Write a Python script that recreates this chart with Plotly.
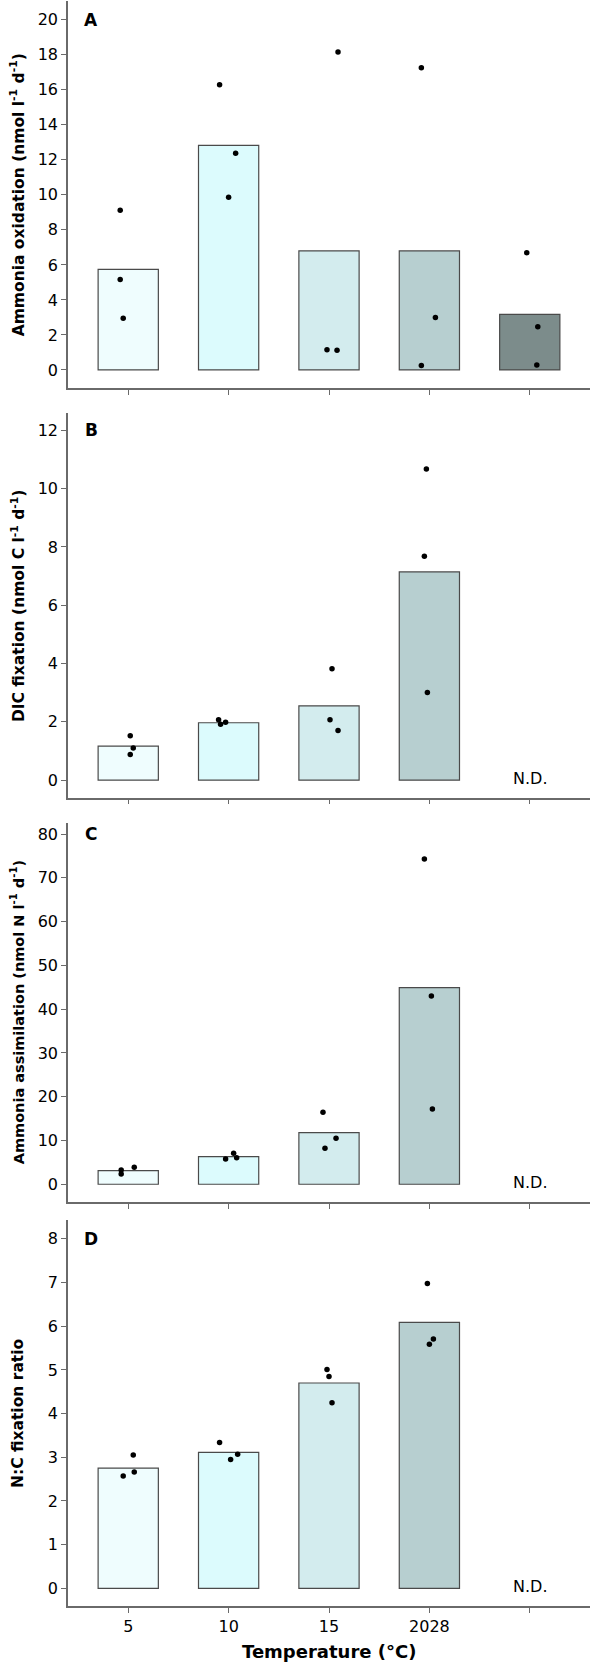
import plotly.graph_objects as go

# ---------------- data ----------------
categories = ["5", "10", "15", "2028", ""]
bar_colors = ["#effdfe", "#dcfbfd", "#d3ecee", "#b7cfd0", "#7c8c8b"]

# Panel A: ammonia oxidation
a_means = [5.74, 12.82, 6.80, 6.80, 3.17]
a_points = [[9.12, 5.17, 2.95], [16.28, 12.38, 9.86], [18.16, 1.16, 1.12],
            [17.25, 3.00, 0.25], [6.70, 2.47, 0.28]]
a_jitter = [[-0.08, -0.08, -0.05], [-0.09, 0.07, 0.0], [0.09, -0.02, 0.08],
            [-0.08, 0.06, -0.08], [-0.03, 0.08, 0.07]]

# Panel B: DIC fixation
b_means = [1.165, 1.97, 2.55, 7.14]
b_points = [[1.52, 1.10, 0.88], [2.07, 1.92, 1.99], [3.82, 2.07, 1.70],
            [10.67, 7.68, 3.01]]
b_jitter = [[0.02, 0.05, 0.02], [-0.10, -0.08, -0.03], [0.03, 0.01, 0.09],
            [-0.03, -0.05, -0.02]]

# Panel C: ammonia assimilation
c_means = [3.1, 6.3, 11.8, 44.9]
c_points = [[3.27, 2.35, 3.88], [5.78, 7.08, 6.08], [16.44, 10.5, 8.22],
            [74.3, 43.0, 17.2]]
c_jitter = [[-0.07, -0.07, 0.06], [-0.03, 0.05, 0.08], [-0.06, 0.07, -0.04],
            [-0.05, 0.02, 0.03]]

# Panel D: N:C fixation ratio
d_means = [2.75, 3.11, 4.70, 6.09]
d_points = [[2.57, 2.66, 3.05], [3.34, 2.95, 3.07], [5.01, 4.85, 4.25],
            [6.98, 5.71, 5.59]]
d_jitter = [[-0.05, 0.06, 0.05], [-0.09, 0.02, 0.09], [-0.02, 0.0, 0.03],
            [-0.02, 0.04, 0.0]]

panel_letters = ["A", "B", "C", "D"]
y_titles = ["Ammonia oxidation (nmol l<sup>-1</sup> d<sup>-1</sup>)",
            "DIC fixation (nmol C l<sup>-1</sup> d<sup>-1</sup>)",
            "Ammonia assimilation (nmol N l<sup>-1</sup> d<sup>-1</sup>)",
            "N:C fixation ratio"]
y_ticks = [[0, 2, 4, 6, 8, 10, 12, 14, 16, 18, 20],
           [0, 2, 4, 6, 8, 10, 12],
           [0, 10, 20, 30, 40, 50, 60, 70, 80],
           [0, 1, 2, 3, 4, 5, 6, 7, 8]]
y_ranges = [[-1.03, 21.08], [-0.6, 12.6], [-4.0, 82.5], [-0.405, 8.43]]
domains = [[0.7584, 0.9995], [0.5033, 0.7430], [0.2517, 0.4875], [0.0, 0.2403]]
nd_label = "N.D."
x_title = "Temperature (°C)"

FONT = "DejaVu Sans"
AXC = "#6a6a6a"
EDGE = "#4a4a4a"

fig = go.Figure()
panels = [(a_means, a_points, a_jitter), (b_means, b_points, b_jitter),
          (c_means, c_points, c_jitter), (d_means, d_points, d_jitter)]
title_sizes = [15.5, 15.5, 14.5, 15.5]

for i, (means, pts, jit) in enumerate(panels):
    xa = "x" if i == 0 else f"x{i+1}"
    ya = "y" if i == 0 else f"y{i+1}"
    n = len(means)
    fig.add_trace(go.Bar(
        x=list(range(n)), y=means, width=0.6,
        marker=dict(color=bar_colors[:n], line=dict(color=EDGE, width=1.2)),
        xaxis=xa, yaxis=ya, showlegend=False, hoverinfo="skip"))
    px, py = [], []
    for k in range(n):
        for v, j in zip(pts[k], jit[k]):
            px.append(k + j)
            py.append(v)
    fig.add_trace(go.Scatter(
        x=px, y=py, mode="markers",
        marker=dict(color="black", size=5.5),
        xaxis=xa, yaxis=ya, showlegend=False, hoverinfo="skip"))
    # panel letter
    fig.add_annotation(x=-0.37, y=y_ticks[i][-1], xref=xa, yref=ya,
                       text=f"<b>{panel_letters[i]}</b>", showarrow=False,
                       font=dict(family=FONT, size=17, color="black"),
                       xanchor="center", yanchor="middle")
    # N.D.
    if n < 5:
        fig.add_annotation(x=4, y=0, xref=xa, yref=ya, text=nd_label,
                           showarrow=False, yshift=2,
                           font=dict(family=FONT, size=16, color="black"),
                           xanchor="center", yanchor="middle")
    # y title
    fig.add_annotation(x=-0.096, y=(domains[i][0] + domains[i][1]) / 2,
                       xref="paper", yref="paper", text=f"<b>{y_titles[i]}</b>",
                       textangle=-90, showarrow=False,
                       font=dict(family=FONT, size=title_sizes[i], color="black"),
                       xanchor="center", yanchor="middle")

    xkey = "xaxis" if i == 0 else f"xaxis{i+1}"
    ykey = "yaxis" if i == 0 else f"yaxis{i+1}"
    fig.update_layout({
        xkey: dict(domain=[0, 1], range=[-0.6, 4.6], anchor=ya,
                   tickmode="array", tickvals=list(range(5)), ticktext=categories,
                   showticklabels=(i == 3), ticks="outside", ticklen=5,
                   tickcolor=AXC, tickwidth=1, showline=True, linecolor=AXC,
                   linewidth=1.5, showgrid=False, zeroline=False,
                   tickfont=dict(family=FONT, size=16, color="black")),
        ykey: dict(domain=domains[i], range=y_ranges[i], anchor=xa,
                   tickmode="array", tickvals=y_ticks[i],
                   ticks="outside", ticklen=5, tickcolor=AXC, tickwidth=1,
                   showline=True, linecolor=AXC, linewidth=1.5,
                   showgrid=False, zeroline=False,
                   tickfont=dict(family=FONT, size=16, color="black")),
    })

fig.add_annotation(x=0.5, y=0, xref="paper", yref="paper", text=f"<b>{x_title}</b>",
                   showarrow=False, yshift=-58,
                   font=dict(family=FONT, size=18, color="black"),
                   xanchor="center", yanchor="bottom")

fig.update_layout(
    width=596, height=1665,
    margin=dict(l=68, r=6, t=0, b=59),
    plot_bgcolor="white", paper_bgcolor="white",
    bargap=0.4, font=dict(family=FONT),
)

fig.write_html("out.html")
